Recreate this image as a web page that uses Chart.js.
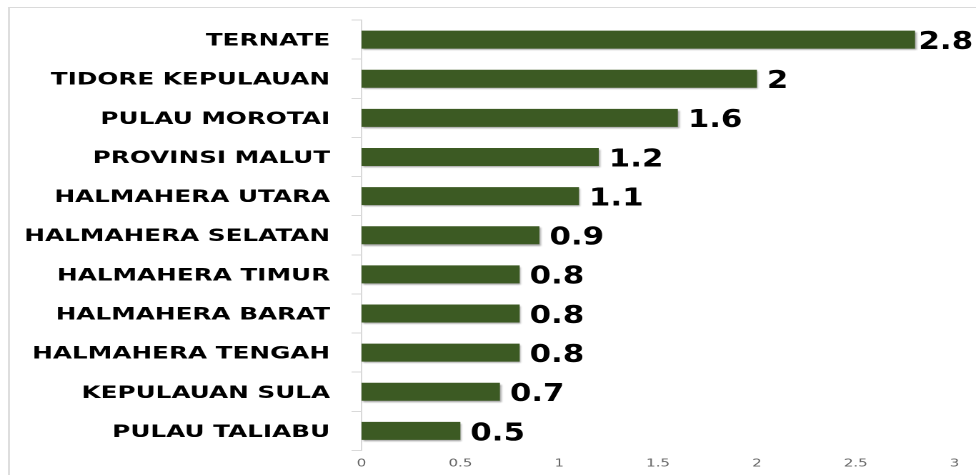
<!DOCTYPE html>
<html>
<head>
<meta charset="utf-8">
<script src="https://cdn.jsdelivr.net/npm/chart.js@4/dist/chart.umd.min.js"></script>
<style>
  html, body { margin: 0; padding: 0; background: #fff; overflow: hidden; }
  body { width: 976px; height: 475px; position: relative; }
  #frame { position: absolute; left: 8px; top: 7px; width: 990px; height: 500px;
           border-left: 2px solid #dedede; border-top: 1px solid #dadada; }
  #wrap { position: absolute; left: 0; top: 0; width: 683px; height: 475px;
          transform-origin: 0 0; transform: scaleX(1.429); }
</style>
</head>
<body>
<div id="frame"></div>
<div id="wrap"><canvas id="c" width="683" height="475"></canvas></div>
<script>
const categories = ['TERNATE', 'TIDORE KEPULAUAN', 'PULAU MOROTAI', 'PROVINSI MALUT',
  'HALMAHERA UTARA', 'HALMAHERA SELATAN', 'HALMAHERA TIMUR', 'HALMAHERA BARAT',
  'HALMAHERA TENGAH', 'KEPULAUAN SULA', 'PULAU TALIABU'];
const values = [2.8, 2, 1.6, 1.2, 1.1, 0.9, 0.8, 0.8, 0.8, 0.7, 0.5];
const valueLabels = ['2.8', '2', '1.6', '1.2', '1.1', '0.9', '0.8', '0.8', '0.8', '0.7', '0.5'];
const xTickLabels = ['0', '0.5', '1', '1.5', '2', '2.5', '3'];

const barShadow = {
  id: 'barShadow',
  beforeDatasetsDraw(chart) {
    const ctx = chart.ctx;
    ctx.save();
    ctx.shadowColor = 'rgba(0,0,0,0.35)';
    ctx.shadowOffsetX = 2;
    ctx.shadowOffsetY = 3;
    ctx.shadowBlur = 3;
  },
  afterDatasetsDraw(chart) {
    chart.ctx.restore();
  }
};

const barValues = {
  id: 'barValues',
  afterDatasetsDraw(chart) {
    const ctx = chart.ctx;
    const meta = chart.getDatasetMeta(0);
    const sx = 0.88;
    ctx.save();
    ctx.font = 'bold 24.5px "DejaVu Sans"';
    ctx.fillStyle = '#000000';
    ctx.textBaseline = 'middle';
    ctx.textAlign = 'left';
    meta.data.forEach((bar, i) => {
      const txt = valueLabels[i];
      const w = ctx.measureText(txt).width * sx;
      const x = Math.min(bar.x + 7, chart.width - 2 - w);
      ctx.save();
      ctx.translate(x, bar.y + 3);
      ctx.scale(sx, 1);
      ctx.fillText(txt, 0, 0);
      ctx.restore();
    });
    ctx.restore();
  }
};

new Chart(document.getElementById('c'), {
  type: 'bar',
  data: {
    labels: categories,
    datasets: [{
      data: values,
      backgroundColor: '#3c5a23',
      borderWidth: 0,
      barPercentage: 0.46,
      categoryPercentage: 1
    }]
  },
  options: {
    indexAxis: 'y',
    responsive: false,
    animation: false,
    devicePixelRatio: 2,
    layout: { padding: { top: 20, right: 15, left: 0, bottom: 0 } },
    plugins: { legend: { display: false }, tooltip: { enabled: false } },
    scales: {
      x: {
        min: 0, max: 3,
        afterFit: s => { s.height = 24.5; s.paddingLeft = 0; s.paddingRight = 0; },
        grid: { display: false, drawTicks: false },
        border: { display: false },
        ticks: {
          stepSize: 0.5,
          padding: 7,
          color: '#666666',
          font: { family: 'DejaVu Sans', size: 10.5 },
          maxRotation: 0,
          callback: (v, i) => xTickLabels[i]
        }
      },
      y: {
        afterFit: s => { s.width = 253; s.paddingTop = 0; s.paddingBottom = 0; },
        grid: { drawOnChartArea: false, tickLength: 7, color: '#d9d9d9', offset: true },
        border: { color: '#d9d9d9', width: 1 },
        ticks: {
          padding: 15,
          labelOffset: 1.5,
          color: '#000000',
          font: { family: 'DejaVu Sans', weight: 'bold', size: 17.3 }
        }
      }
    }
  },
  plugins: [barShadow, barValues]
});
</script>
</body>
</html>
